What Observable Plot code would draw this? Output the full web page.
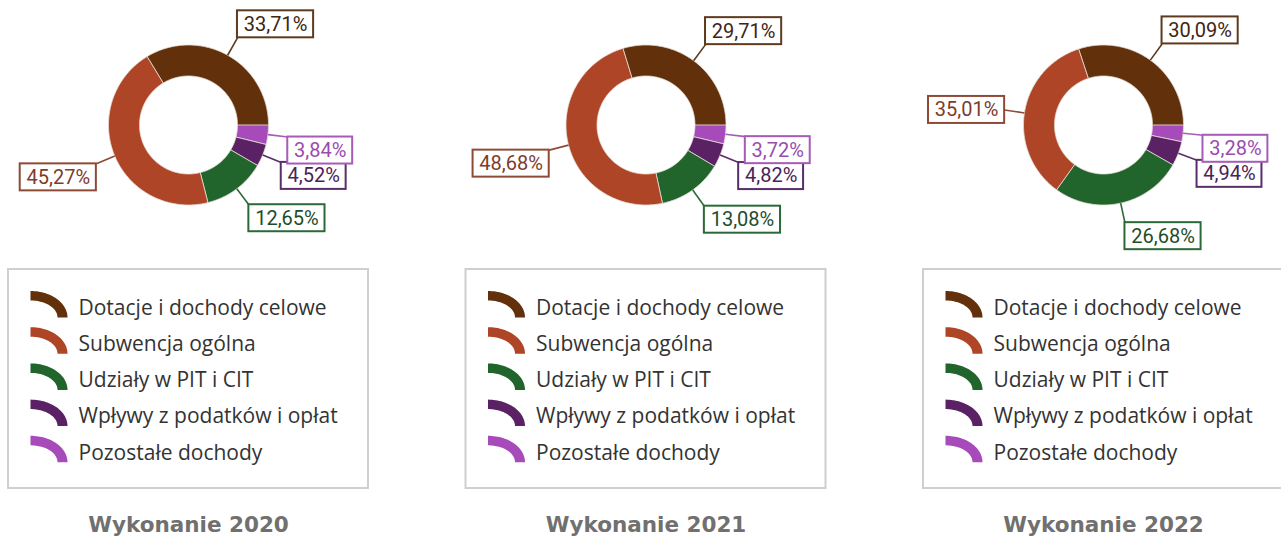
<!DOCTYPE html>
<html>
<head>
<meta charset="utf-8">
<script src="https://cdn.jsdelivr.net/npm/d3@7"></script>
<script src="https://cdn.jsdelivr.net/npm/@observablehq/plot@0.6"></script>
<style>
  html, body { margin: 0; padding: 0; background: #fff; }
  #chart svg { display: block; }
</style>
</head>
<body>
<div id="chart"></div>
<script>
// ---- data ----
const years = ["2020", "2021", "2022"];
const categories = [
  "Dotacje i dochody celowe",
  "Subwencja ogólna",
  "Udziały w PIT i CIT",
  "Wpływy z podatków i opłat",
  "Pozostałe dochody"
];
const values2020 = [33.71, 45.27, 12.65, 4.52, 3.84];
const values2021 = [29.71, 48.68, 13.08, 4.82, 3.72];
const values2022 = [30.09, 35.01, 26.68, 4.94, 3.28];
const seriesValues = [values2020, values2021, values2022];
const titlePrefix = "Wykonanie ";

// ---- styles ----
const sliceColors = ["#62300a", "#ae4527", "#21642c", "#5a2264", "#a64bb9"];
const labelStroke = ["#5e3b1f", "#8f4a36", "#2b6a38", "#5a2d6a", "#a65bb8"];
const labelText   = ["#3d2614", "#7e3c2c", "#1f4d29", "#4a2457", "#9a4caf"];

// ---- layout ----
const W = 1281, H = 540;
const step = 457.5, cx0 = 188, cy = 124.5;
const rOuter = 80, rInner = 49, rLabel = 100;
const boxH = 27, boxPad = 6.3;
const legendTop = 269, legendBottom = 488, legendHalf = 180;
const rowY0 = 307.5, rowStep = 36.2;
const labelFont = "20px Roboto";

const ctx = document.createElement("canvas").getContext("2d");
ctx.font = labelFont;
const fmt = v => v.toFixed(2).replace(".", ",") + "%";

const slicePts = [], leaders = [], boxes = [], legendItems = [], iconPts = [], frames = [], titles = [];
years.forEach((yr, i) => {
  const cx = cx0 + i * step;
  const vals = seriesValues[i];
  const total = d3.sum(vals);
  let acc = 0;
  vals.forEach((v, j) => {
    const a0 = acc / total * 2 * Math.PI;
    const a1 = (acc + v) / total * 2 * Math.PI;
    acc += v;
    const key = yr + "-" + j;
    const n = Math.max(2, Math.ceil((a1 - a0) / (Math.PI / 180)));
    for (let k = 0; k <= n; k++) {
      const t = a0 + (a1 - a0) * k / n;
      slicePts.push({key, j, x: cx + rOuter * Math.cos(t), y: cy - rOuter * Math.sin(t)});
    }
    for (let k = n; k >= 0; k--) {
      const t = a0 + (a1 - a0) * k / n;
      slicePts.push({key, j, x: cx + rInner * Math.cos(t), y: cy - rInner * Math.sin(t)});
    }
    // label
    const m = (a0 + a1) / 2, c = Math.cos(m), s = Math.sin(m);
    const px = cx + rOuter * c, py = cy - rOuter * s;
    const qx = cx + rLabel * c, qy = cy - rLabel * s;
    const label = fmt(v);
    const w = ctx.measureText(label).width + 2 * boxPad;
    const x1 = c >= 0 ? qx : qx - w;
    let y1;
    if (c < 0 && s > -0.2 && s < 0.3) y1 = qy - boxH / 2;
    else if (s > 0) y1 = qy - boxH;
    else y1 = qy;
    leaders.push({j, x1: px, y1: py, x2: qx, y2: qy});
    boxes.push({j, label, x1, x2: x1 + w, y1, y2: y1 + boxH});
  });
  // legend
  const lx = cx - legendHalf;
  frames.push({x1: lx, x2: lx + 2 * legendHalf, y1: legendTop, y2: legendBottom});
  categories.forEach((cat, j) => {
    const ry = rowY0 + j * rowStep;
    legendItems.push({j, cat, x: lx + 70, y: ry});
    const ix = lx + 22, iy = ry + 9.5;
    const key = "leg-" + yr + "-" + j;
    for (let k = 0; k <= 30; k++) {
      const t = Math.PI / 2 * (1 - k / 30);
      iconPts.push({key, j, x: ix + 37 * Math.cos(t), y: iy - 26.5 * Math.sin(t)});
    }
    for (let k = 30; k >= 0; k--) {
      const t = Math.PI / 2 * (1 - k / 30);
      iconPts.push({key, j, x: ix + 27 * Math.cos(t), y: iy - 17 * Math.sin(t)});
    }
  });
  titles.push({x: cx, y: 524.5, text: titlePrefix + yr});
});

const chart = Plot.plot({
  width: W,
  height: H,
  margin: 0,
  x: {domain: [0, W], range: [0, W], axis: null},
  y: {domain: [0, H], range: [0, H], axis: null},
  color: {type: "identity"},
  style: {background: "white"},
  marks: [
    Plot.line(slicePts, {x: "x", y: "y", z: "key", fill: d => sliceColors[d.j], stroke: "#e6ddd6", strokeWidth: 0.8, curve: "linear-closed"}),
    Plot.link(leaders, {x1: "x1", y1: "y1", x2: "x2", y2: "y2", stroke: d => labelStroke[d.j], strokeWidth: 1.6}),
    Plot.rect(boxes, {x1: "x1", x2: "x2", y1: "y1", y2: "y2", fill: "white", stroke: d => labelStroke[d.j], strokeWidth: 2}),
    Plot.text(boxes, {x: d => (d.x1 + d.x2) / 2, y: d => (d.y1 + d.y2) / 2, text: "label", fill: d => labelText[d.j], fontSize: 20, fontFamily: "Roboto", textAnchor: "middle"}),
    Plot.rect(frames, {x1: "x1", x2: "x2", y1: "y1", y2: "y2", fill: "none", stroke: "#cfcfcf", strokeWidth: 2}),
    Plot.line(iconPts, {x: "x", y: "y", z: "key", fill: d => sliceColors[d.j], stroke: "none", curve: "linear-closed"}),
    Plot.text(legendItems, {x: "x", y: "y", text: "cat", fill: "#333333", fontSize: 21, fontFamily: "Open Sans", textAnchor: "start"}),
    Plot.text(titles, {x: "x", y: "y", text: "text", fill: "#707070", fontSize: 21.5, fontWeight: "bold", fontFamily: "DejaVu Sans", textAnchor: "middle"})
  ]
});
document.getElementById("chart").appendChild(chart);
</script>
</body>
</html>
